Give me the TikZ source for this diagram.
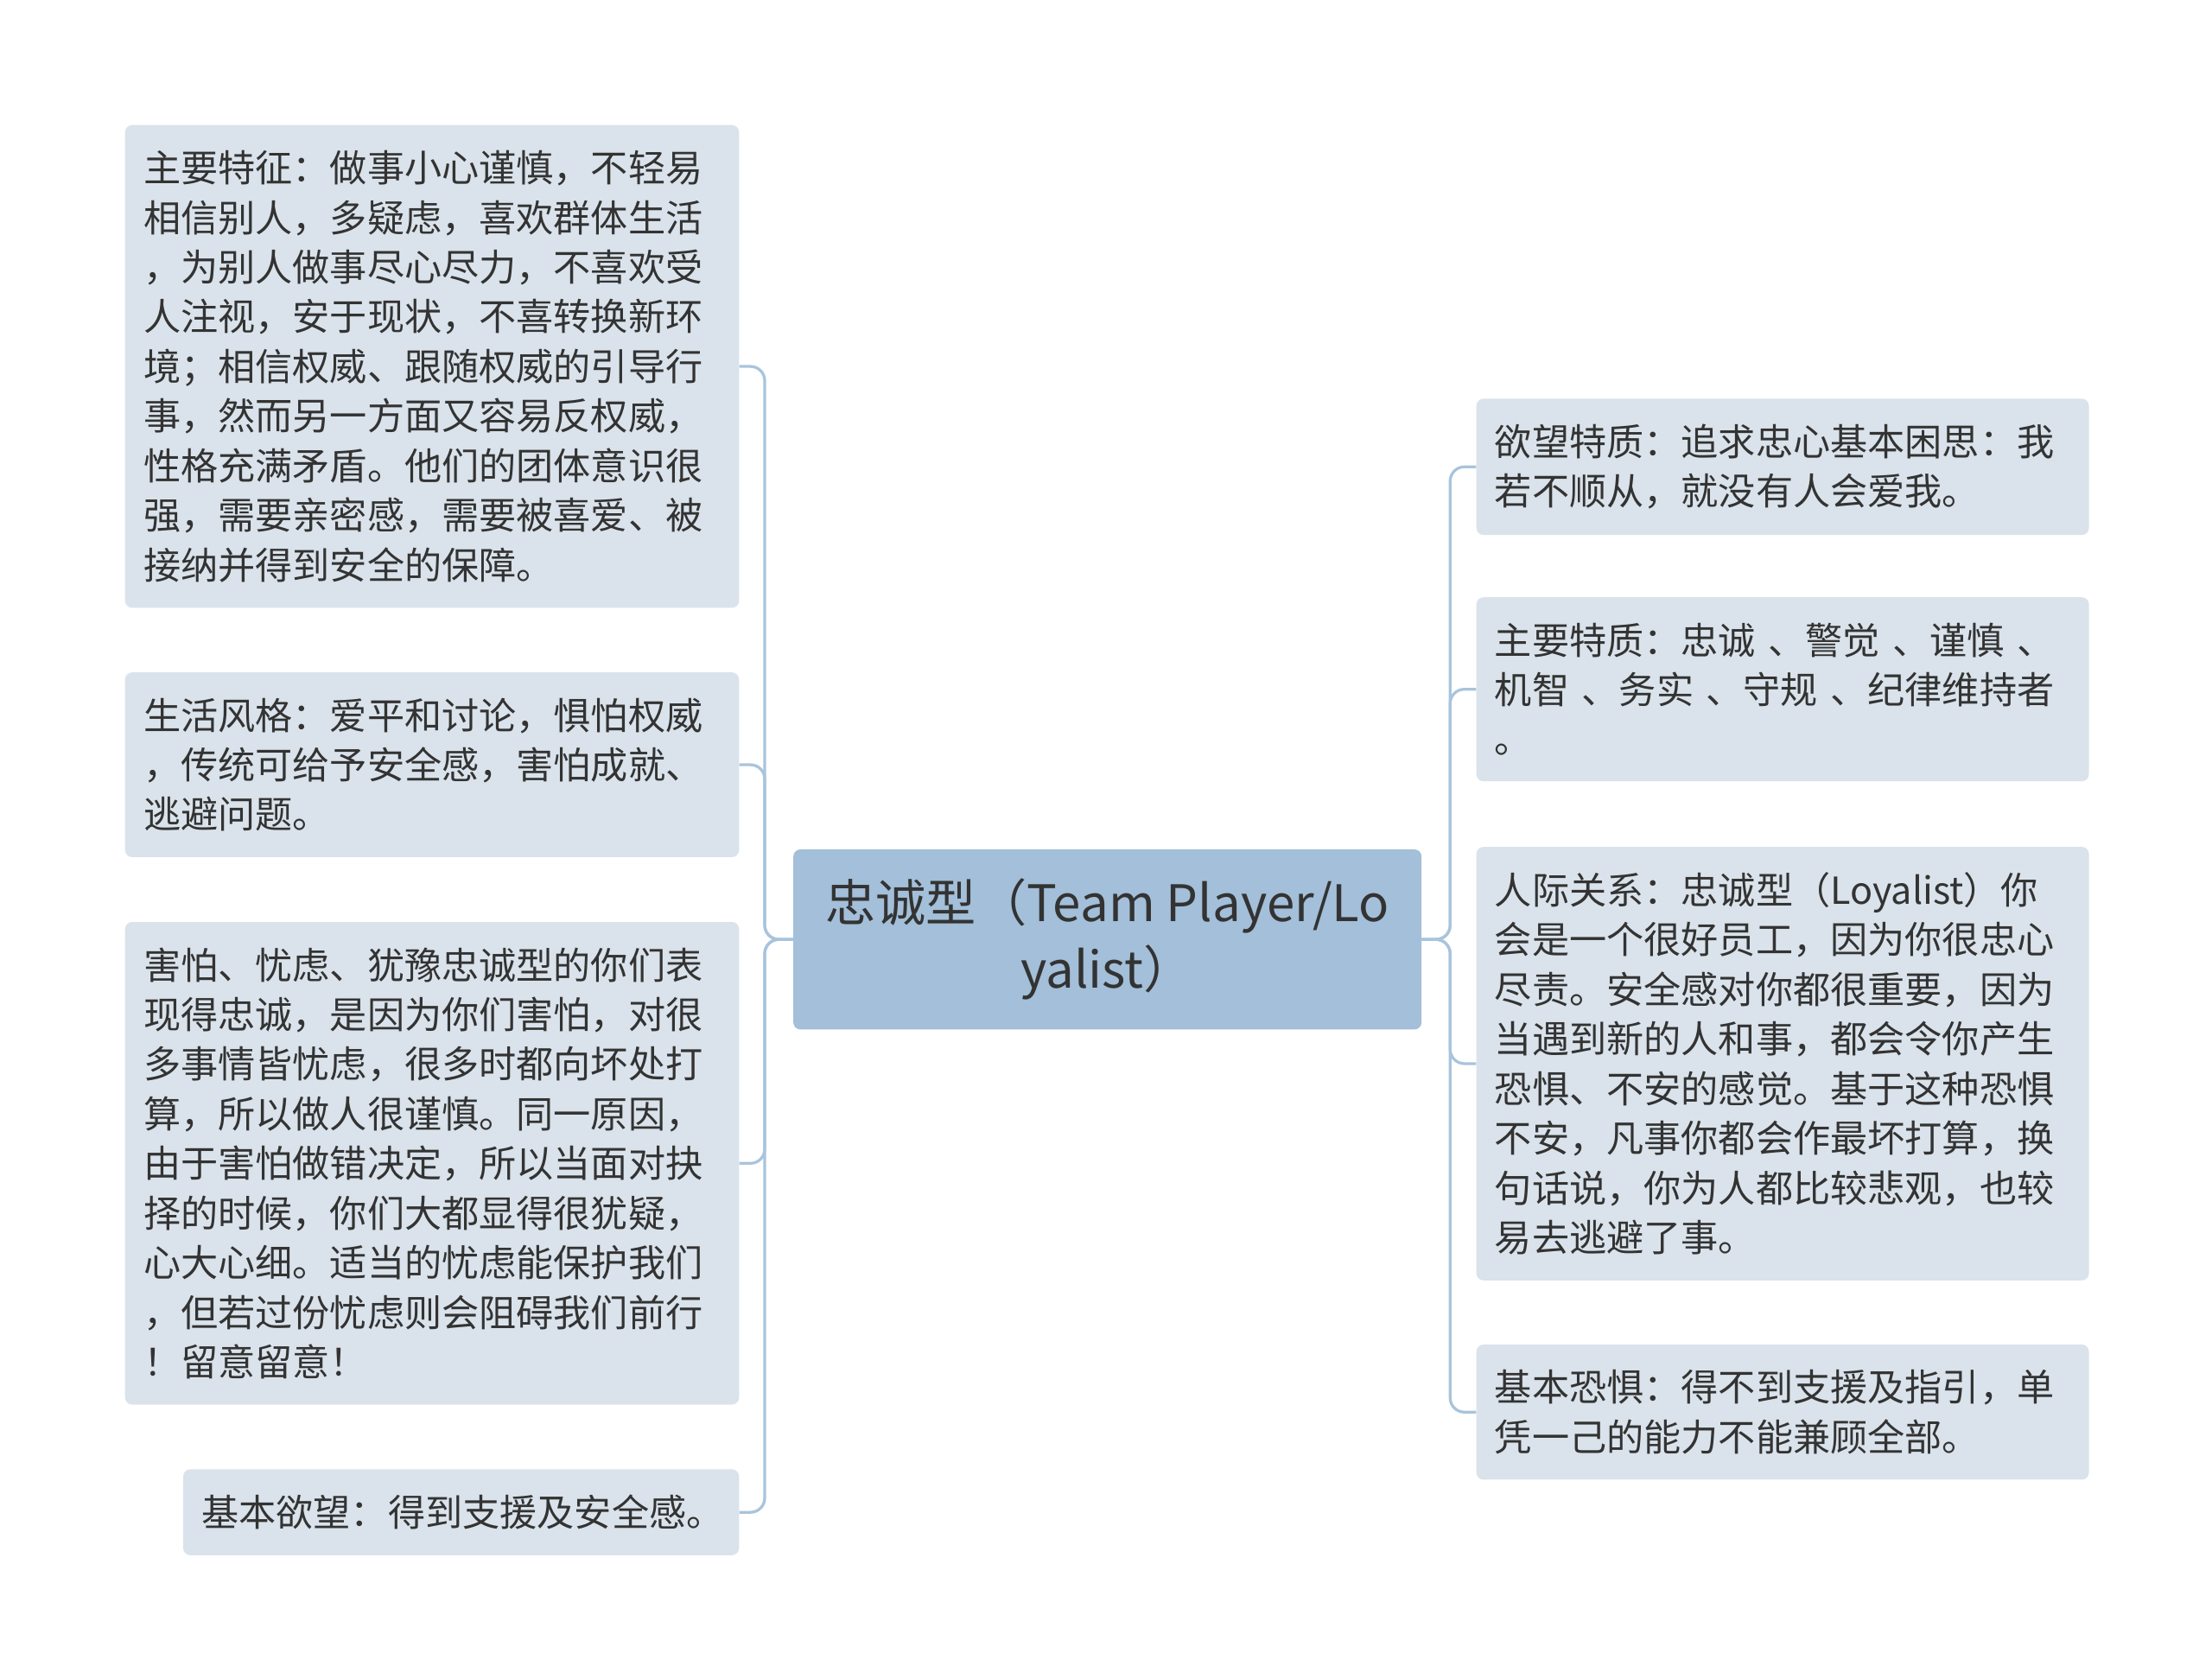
\documentclass[tikz,border=0pt]{standalone}
\usepackage{fontspec}
\setmainfont{Noto Sans CJK SC}
\begin{document}
\begin{tikzpicture}[x=1pt,y=-1pt,
  leaf/.style={fill=leaffill,rounded corners=5pt,anchor=north west,align=left,inner xsep=13pt,inner ysep=18pt,text=txt,font=\fontsize{26.3}{35}\selectfont},
  root/.style={fill=rootfill,rounded corners=5pt,align=center,text=txt,font=\fontsize{35.5}{47}\selectfont,minimum width=443pt,minimum height=127pt,inner xsep=4pt},
  conn/.style={draw=linec,line width=2pt,rounded corners=10pt}]
\definecolor{leaffill}{HTML}{DAE3EB}
\definecolor{rootfill}{HTML}{A3BFD9}
\definecolor{linec}{HTML}{A9C4DC}
\definecolor{txt}{HTML}{333333}
\useasboundingbox (0,0) rectangle (1560,1179);
\node[root] (c) at (781,662.5) {忠诚型（Team Player/Lo\\yalist）};
\node[leaf,text width=407pt] (L1) at (88,88) {主要特征：做事小心谨慎，不轻易\\相信别人，多疑虑，喜欢群体生活\\，为别人做事尽心尽力，不喜欢受\\人注视，安于现状，不喜转换新环\\境；相信权威、跟随权威的引导行\\事，然而另一方面又容易反权威，\\性格充满矛盾。他们的团体意识很\\强，需要亲密感，需要被喜爱、被\\接纳并得到安全的保障。};
\node[leaf,text width=407pt] (L2) at (88,474) {生活风格：爱平和讨论，惧怕权威\\，传统可给予安全感，害怕成就、\\逃避问题。};
\node[leaf,text width=407pt] (L3) at (88,650) {害怕、忧虑、犹豫忠诚型的你们表\\现得忠诚，是因为你们害怕，对很\\多事情皆忧虑，很多时都向坏处打\\算，所以做人很谨慎。同一原因，\\由于害怕做错决定，所以当面对抉\\择的时候，你们大都显得很犹疑，\\心大心细。适当的忧虑能保护我们\\，但若过份忧虑则会阻碍我们前行\\！留意留意！};
\node[leaf,text width=366pt] (L4) at (129,1036) {基本欲望：得到支援及安全感。};
\node[leaf,text width=406pt] (R1) at (1041,281) {欲望特质：追求忠心基本困思：我\\若不顺从，就没有人会爱我。};
\node[leaf,text width=406pt] (R2) at (1041,421) {主要特质：忠诚 、警觉 、谨慎 、\\机智 、务实 、守规 、纪律维持者\\。};
\node[leaf,text width=406pt] (R3) at (1041,597) {人际关系：忠诚型（Loyalist）你\\会是一个很好员工，因为你很忠心\\尽责。安全感对你都很重要，因为\\当遇到新的人和事，都会令你产生\\恐惧、不安的感觉。基于这种恐惧\\不安，凡事你都会作最坏打算，换\\句话说，你为人都比较悲观，也较\\易去逃避了事。};
\node[leaf,text width=406pt] (R4) at (1041,948) {基本恐惧：得不到支援及指引，单\\凭一己的能力不能兼顾全部。};
\foreach \n in {L1,L2,L3,L4} \draw[conn] (c.west) -- ++(-20,0) |- (\n.east);
\foreach \n in {R1,R2,R3,R4} \draw[conn] (c.east) -- ++(20,0) |- (\n.west);
\end{tikzpicture}
\end{document}
